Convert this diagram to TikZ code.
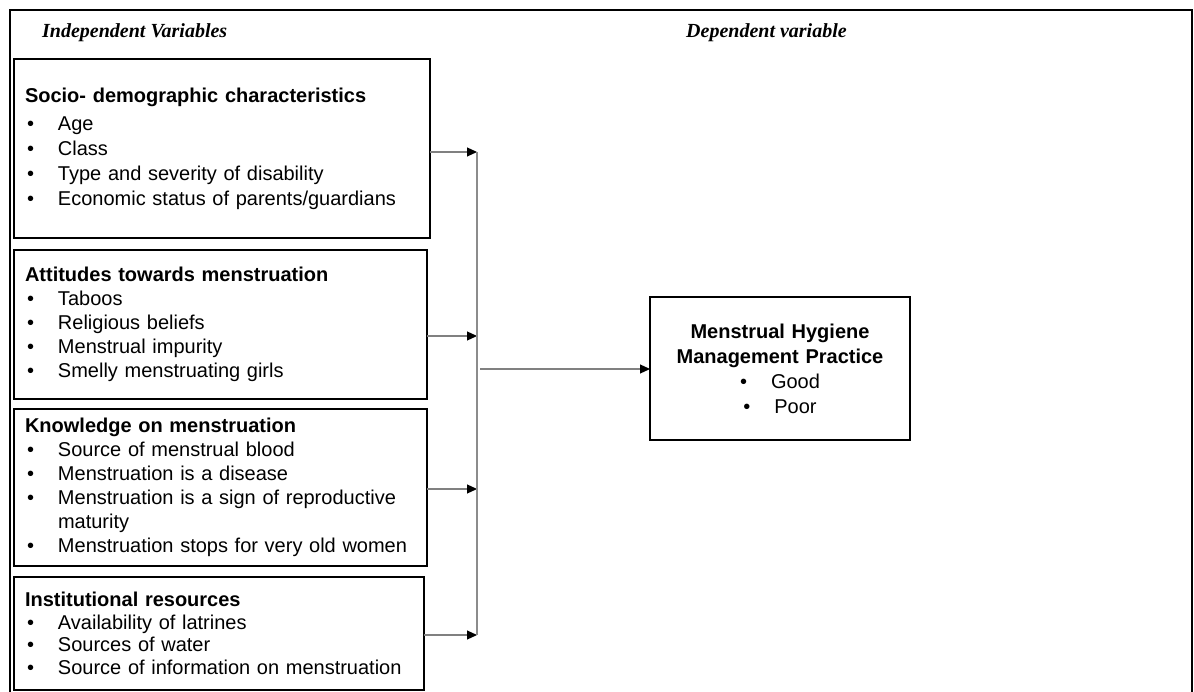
\documentclass[tikz,border=0pt]{standalone}
\usepackage{fontspec}
\setmainfont{Liberation Sans}
\newfontfamily\headfont{Liberation Serif}
\usetikzlibrary{arrows.meta,positioning}
\tikzstyle{varbox} = [draw, rectangle, line width=2.8pt, outer sep=0pt,
    inner xsep=11pt, inner ysep=0pt, align=left, anchor=north west,
    font=\fontsize{20}{24}\selectfont]
\tikzstyle{outcome} = [varbox, align=center, font=\fontsize{20}{25}\selectfont]
\tikzstyle{heading} = [inner sep=0pt, anchor=base west,
    font=\headfont\bfseries\itshape\fontsize{20}{24}\selectfont]
\tikzstyle{connector} = [-{Triangle[length=10pt,width=9pt,color=black]},
    line width=1.1pt, draw=black!50]
\tikzstyle{bus} = [line width=1.1pt, draw=black!45]
\tikzstyle{frame} = [line width=2pt]
\newcommand{\bul}[1]{\makebox[33pt][l]{\hspace*{2pt}\textbullet}#1}

\begin{document}
\begin{tikzpicture}[x=1pt,y=-1pt]
		\useasboundingbox (0,0) rectangle (1194,692);
		\draw[frame] (10,692) |- (1192,10) -- (1192,692);
		
		\node[heading] (indep) at (42,38) {Independent Variables};
		\node[heading] (dep) at (686,38) {Dependent variable};
		
		\node[varbox, text width=394pt, minimum height=179pt,
			font=\fontsize{20}{25}\selectfont] (socio) at (14,59)
			{\textbf{Socio- demographic characteristics}\\[3pt]
			\bul{Age}\\ \bul{Class}\\ \bul{Type and severity of disability}\\
			\bul{Economic status of parents/guardians}};
		\node[varbox, text width=391pt, minimum height=149pt,
			below=12pt of socio.south west, anchor=north west] (attit)
			{\textbf{Attitudes towards menstruation}\\
			\bul{Taboos}\\ \bul{Religious beliefs}\\ \bul{Menstrual impurity}\\
			\bul{Smelly menstruating girls}};
		\node[varbox, text width=391pt, minimum height=157pt,
			below=10pt of attit.south west, anchor=north west] (knowl)
			{\textbf{Knowledge on menstruation}\\
			\bul{Source of menstrual blood}\\ \bul{Menstruation is a disease}\\
			\bul{Menstruation is a sign of reproductive}\\ \hspace*{33pt}maturity\\
			\bul{Menstruation stops for very old women}};
		\node[varbox, text width=388pt, minimum height=113pt,
			font=\fontsize{20}{22.5}\selectfont,
			below=11pt of knowl.south west, anchor=north west] (instit)
			{\textbf{Institutional resources}\\
			\bul{Availability of latrines}\\ \bul{Sources of water}\\
			\bul{Source of information on menstruation}};
		
		\node[outcome, text width=238pt, minimum height=143pt] (mhm) at (650,297)
			{\textbf{Menstrual Hygiene}\\ \textbf{Management Practice}\\
			\textbullet\hspace{24pt}Good\\ \textbullet\hspace{24pt}Poor};
		
		\coordinate (j1) at (477,152);
		\coordinate (j2) at (477,336);
		\coordinate (j3) at (477,489);
		\coordinate (j4) at (477,635);
		\coordinate (hub) at (480,369);
		
		\draw[connector] (socio.east |- j1) -- (j1);
		\draw[connector] (attit.east |- j2) -- (j2);
		\draw[connector] (knowl.east |- j3) -- (j3);
		\draw[connector] (instit.east |- j4) -- (j4);
		\draw[bus] (j1) -- (j4);
		\draw[connector] (hub) -- (mhm.west |- hub);
	\end{tikzpicture}
\end{document}
